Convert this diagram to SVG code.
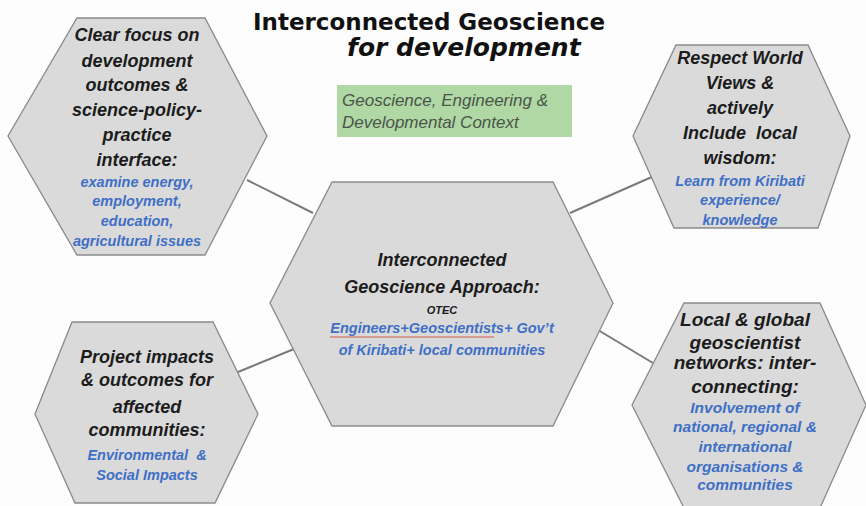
<svg xmlns="http://www.w3.org/2000/svg" width="866" height="506" viewBox="0 0 866 506">
<style>
.hex{fill:#dadada;stroke:#8a8a8a;stroke-width:1.3}
.conn line{stroke:#7a7a7a;stroke-width:2}
.t{font-family:"Liberation Sans",Arial,sans-serif;font-style:italic;font-weight:bold;fill:#1c1c1c;font-size:18px;text-anchor:middle}
.b{font-family:"Liberation Sans",Arial,sans-serif;font-style:italic;font-weight:bold;fill:#3f6fc6;font-size:14.5px;text-anchor:middle}
.title{font-family:"DejaVu Sans",Verdana,sans-serif;font-weight:bold;fill:#111;font-size:23px}
.g{font-family:"Liberation Sans",Arial,sans-serif;font-style:italic;fill:#4a544a;font-size:17px}
</style>
<rect width="866" height="506" fill="#fdfdfd"/>
<g id="title">
<text class="title" x="253" y="30">Interconnected Geoscience</text>
<text class="title" x="347" y="56" style="font-style:italic;font-size:25px">for development</text>
</g>
<g id="context">
<rect x="337" y="85" width="235" height="52" fill="#afd8a4"/>
<text class="g" x="342" y="106">Geoscience, Engineering &amp;</text>
<text class="g" x="342" y="128">Developmental Context</text>
</g>
<g class="conn" id="connectors">
<line x1="247" y1="180" x2="313" y2="213"/>
<line x1="570" y1="213" x2="654" y2="176"/>
<line x1="238" y1="372" x2="294" y2="349"/>
<line x1="598" y1="330" x2="653" y2="363"/>
</g>
<g id="focus">
<polygon class="hex" points="77,18 205,18 267,136 205,255 77,255 8,136"/>
<text class="t" x="137" y="41">Clear focus on</text>
<text class="t" x="137" y="67">development</text>
<text class="t" x="137" y="91">outcomes &amp;</text>
<text class="t" x="137" y="116">science-policy-</text>
<text class="t" x="137" y="141">practice</text>
<text class="t" x="137" y="166">interface:</text>
<text class="b" x="137" y="187">examine energy,</text>
<text class="b" x="137" y="206">employment,</text>
<text class="b" x="137" y="226">education,</text>
<text class="b" x="137" y="246">agricultural issues</text>
</g>
<g id="respect">
<polygon class="hex" points="676,45 808,45 850,136 818,228 674,228 633,136"/>
<text class="t" x="740" y="64">Respect World</text>
<text class="t" x="740" y="89">Views &amp;</text>
<text class="t" x="740" y="114">actively</text>
<text class="t" x="740" y="139" xml:space="preserve">Include  local</text>
<text class="t" x="740" y="164">wisdom:</text>
<text class="b" x="740" y="186">Learn from Kiribati</text>
<text class="b" x="740" y="205">experience/</text>
<text class="b" x="740" y="225">knowledge</text>
</g>
<g id="approach">
<polygon class="hex" points="332,182 553,182 613,303 553,426 332,426 270,303"/>
<text class="t" x="442" y="266">Interconnected</text>
<text class="t" x="442" y="293">Geoscience Approach:</text>
<text class="t" x="442" y="314" style="font-size:11px">OTEC</text>
<line x1="330" y1="337" x2="494" y2="337" stroke="#d0604a" stroke-width="1"/>
<text class="b" x="442" y="333">Engineers+Geoscientists+ Gov’t</text>
<text class="b" x="442" y="355">of Kiribati+ local communities</text>
</g>
<g id="impacts">
<polygon class="hex" points="72,322 213,322 258,414 215,503 75,503 35,414"/>
<text class="t" x="147" y="363">Project impacts</text>
<text class="t" x="147" y="386">&amp; outcomes for</text>
<text class="t" x="147" y="413">affected</text>
<text class="t" x="147" y="436">communities:</text>
<text class="b" x="147" y="460" xml:space="preserve">Environmental  &amp;</text>
<text class="b" x="147" y="480">Social Impacts</text>
</g>
<g id="networks">
<polygon class="hex" points="684,303 820,303 866,405 820,508 684,508 632,405"/>
<text class="t" x="745" y="326" style="font-size:19px">Local &amp; global</text>
<text class="t" x="745" y="349" style="font-size:19px">geoscientist</text>
<text class="t" x="745" y="369" style="font-size:19px">networks: inter-</text>
<text class="t" x="745" y="393" style="font-size:19px">connecting:</text>
<text class="b" x="745" y="413" style="font-size:15.5px">Involvement of</text>
<text class="b" x="745" y="432" style="font-size:15.5px">national, regional &amp;</text>
<text class="b" x="745" y="452" style="font-size:15.5px">international</text>
<text class="b" x="745" y="472" style="font-size:15.5px">organisations &amp;</text>
<text class="b" x="745" y="490" style="font-size:15.5px">communities</text>
</g>
</svg>
